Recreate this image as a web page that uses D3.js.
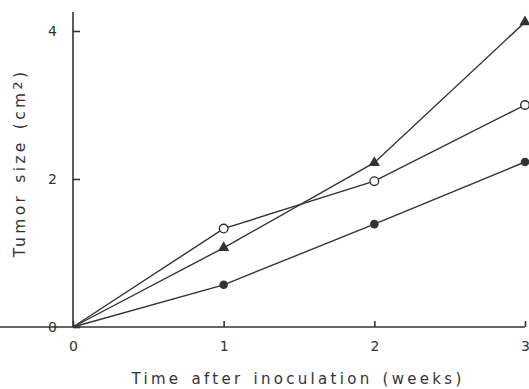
<!DOCTYPE html>
<html><head><meta charset="utf-8">
<script src="https://cdn.jsdelivr.net/npm/d3@7"></script>
<style>body{margin:0;background:#fff}svg{display:block}</style>
</head><body>
<svg id="c" width="529" height="389"></svg>
<script>
const weeks = [0, 1, 2, 3];
const triangleSeries = [0, 1.07, 2.22, 4.12];
const openCircleSeries = [0, 1.33, 1.97, 3.0];
const filledCircleSeries = [0, 0.57, 1.39, 2.23];
const xTicks = [0, 1, 2, 3];
const yTicks = [0, 2, 4];

const ink = "#333";
const svg = d3.select("#c");
const x = d3.scaleLinear().domain([0, 3]).range([73, 525]);
const y = d3.scaleLinear().domain([0, 4]).range([327, 31]);
const font = "'DejaVu Sans', sans-serif";

// axes
const xa = svg.append("g").attr("transform", `translate(0,${y(0)})`)
  .call(d3.axisBottom(x).tickValues(xTicks).tickSize(-6).tickPadding(14).tickFormat(d3.format("d")));
const ya = svg.append("g").attr("transform", `translate(${x(0)},0)`)
  .call(d3.axisLeft(y).tickValues(yTicks).tickSize(-7).tickPadding(16).tickFormat(d3.format("d")));
[xa, ya].forEach(g => {
  g.selectAll("path,line").attr("stroke", ink).attr("stroke-width", 1.6);
  g.selectAll("text").attr("fill", ink).attr("font-family", font).attr("font-size", 14);
});
ya.select(".domain").attr("d", `M0,${y(0)}V12`);
xa.select(".domain").attr("d", `M0,0H${x(3)}`);

// lines
const line = d3.line().x((d, i) => x(weeks[i])).y(d => y(d));
[triangleSeries, openCircleSeries, filledCircleSeries].forEach(s => {
  svg.append("path").datum(s).attr("d", line).attr("fill", "none")
    .attr("stroke", ink).attr("stroke-width", 1.4);
});

// markers
const pts = s => s.map((v, i) => ({w: weeks[i], v})).filter(d => d.w > 0);
svg.selectAll(".tri").data(pts(triangleSeries)).enter().append("path")
  .attr("d", d3.symbol().type(d3.symbolTriangle).size(55))
  .attr("transform", d => `translate(${x(d.w)},${y(d.v)})`).attr("fill", ink);
svg.selectAll(".oc").data(pts(openCircleSeries)).enter().append("circle")
  .attr("cx", d => x(d.w)).attr("cy", d => y(d.v)).attr("r", 4.3)
  .attr("fill", "#fff").attr("stroke", ink).attr("stroke-width", 1.4);
svg.selectAll(".fc").data(pts(filledCircleSeries)).enter().append("circle")
  .attr("cx", d => x(d.w)).attr("cy", d => y(d.v)).attr("r", 4.3).attr("fill", ink);

// titles
svg.append("text").attr("x", 298).attr("y", 384).attr("text-anchor", "middle")
  .attr("font-family", font).attr("font-size", 15).attr("letter-spacing", 3.3).attr("word-spacing", 2).attr("fill", ink)
  .text("Time after inoculation (weeks)");
const yl = svg.append("text").attr("transform", "translate(25,163) rotate(-90)").attr("text-anchor", "middle")
  .attr("font-family", font).attr("font-size", 15.5).attr("letter-spacing", 3.3).attr("word-spacing", 2).attr("fill", ink);
yl.append("tspan").text("Tumor size (cm");
yl.append("tspan").attr("font-size", 13).attr("dy", -3).text("2");
yl.append("tspan").attr("dy", 3).text(")");
</script>
</body></html>
